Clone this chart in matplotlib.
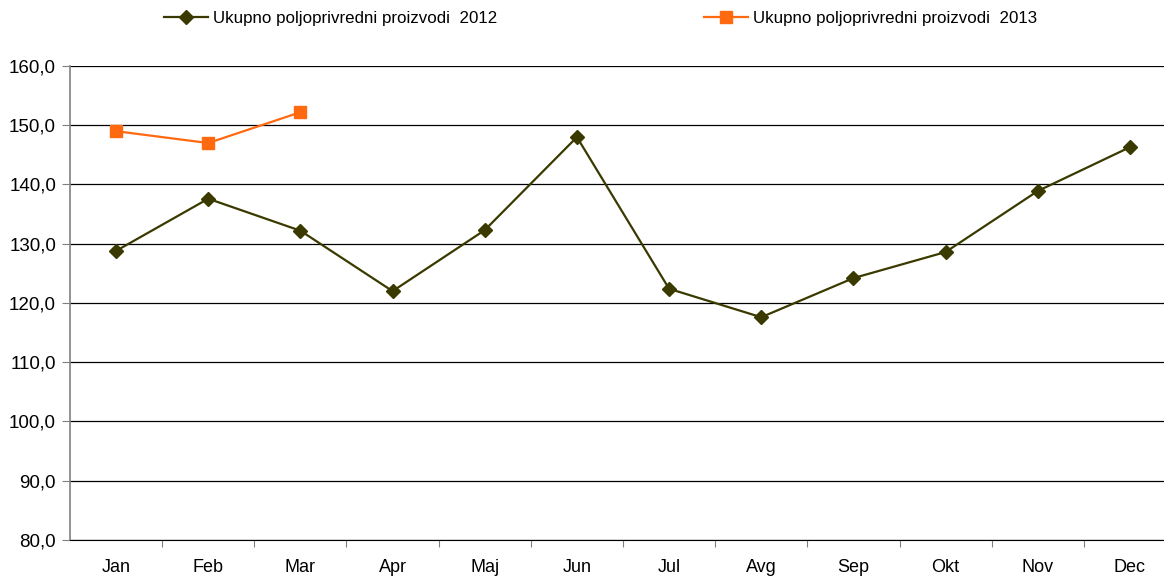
import matplotlib
matplotlib.use("Agg")
import matplotlib.pyplot as plt

months = ["Jan", "Feb", "Mar", "Apr", "Maj", "Jun", "Jul", "Avg", "Sep", "Okt", "Nov", "Dec"]
values_2012 = [128.8, 137.6, 132.2, 122.0, 132.3, 148.0, 122.4, 117.6, 124.2, 128.6, 138.9, 146.3]
values_2013 = [149.0, 147.0, 152.2]
label_2012 = "Ukupno poljoprivredni proizvodi  2012"
label_2013 = "Ukupno poljoprivredni proizvodi  2013"
yticks = [80, 90, 100, 110, 120, 130, 140, 150, 160]

plt.rcParams['font.family'] = ['Liberation Sans', 'DejaVu Sans']

W, H = 1164, 578
fig = plt.figure(figsize=(W / 100, H / 100), dpi=100)
left, right, top, bottom = 70, 1176, 66, 540
ax = fig.add_axes([left / W, 1 - bottom / H, (right - left) / W, (bottom - top) / H])

x = list(range(len(months)))
ax.plot(x, values_2012, color="#3A3A00", lw=1.6, marker="D", ms=7,
        markerfacecolor="#3A3A00", markeredgecolor="#3A3A00", label=label_2012, zorder=3)
ax.plot(x[:len(values_2013)], values_2013, color="#FF6A10", lw=1.6, marker="s", ms=8,
        markerfacecolor="#FF6A10", markeredgecolor="#FF6A10", label=label_2013, zorder=3)

ax.set_xlim(-0.5, len(months) - 0.5)
ax.set_ylim(80, 160)
ax.set_yticks(yticks)
ax.set_yticklabels([f"{v:.1f}".replace(".", ",") for v in yticks], fontsize=13.5)
ax.yaxis.grid(True, color="#000000", lw=0.9)
ax.set_axisbelow(True)

ax.set_xticks([i + 0.5 for i in range(len(months) - 1)])
ax.set_xticklabels([])
ax.set_xticks(x, minor=True)
ax.set_xticklabels(months, minor=True, fontsize=13)
ax.tick_params(axis="x", which="minor", length=0, pad=14)
ax.tick_params(axis="x", which="major", length=5, color="#808080", direction="out")
ax.tick_params(axis="y", length=6, color="#808080", direction="out", pad=4)

for s in ["top", "right"]:
    ax.spines[s].set_visible(False)
ax.spines["left"].set_color("#808080")
ax.spines["left"].set_linewidth(1.2)
ax.spines["bottom"].set_color("#000000")

fig.legend(loc="upper left", bbox_to_anchor=(157 / W, 1 - 4 / H), ncol=2, frameon=False,
           fontsize=12.2, handlelength=2.6, handletextpad=0.3, columnspacing=12.2,
           borderaxespad=0)

fig.savefig("out.png", dpi=100)
